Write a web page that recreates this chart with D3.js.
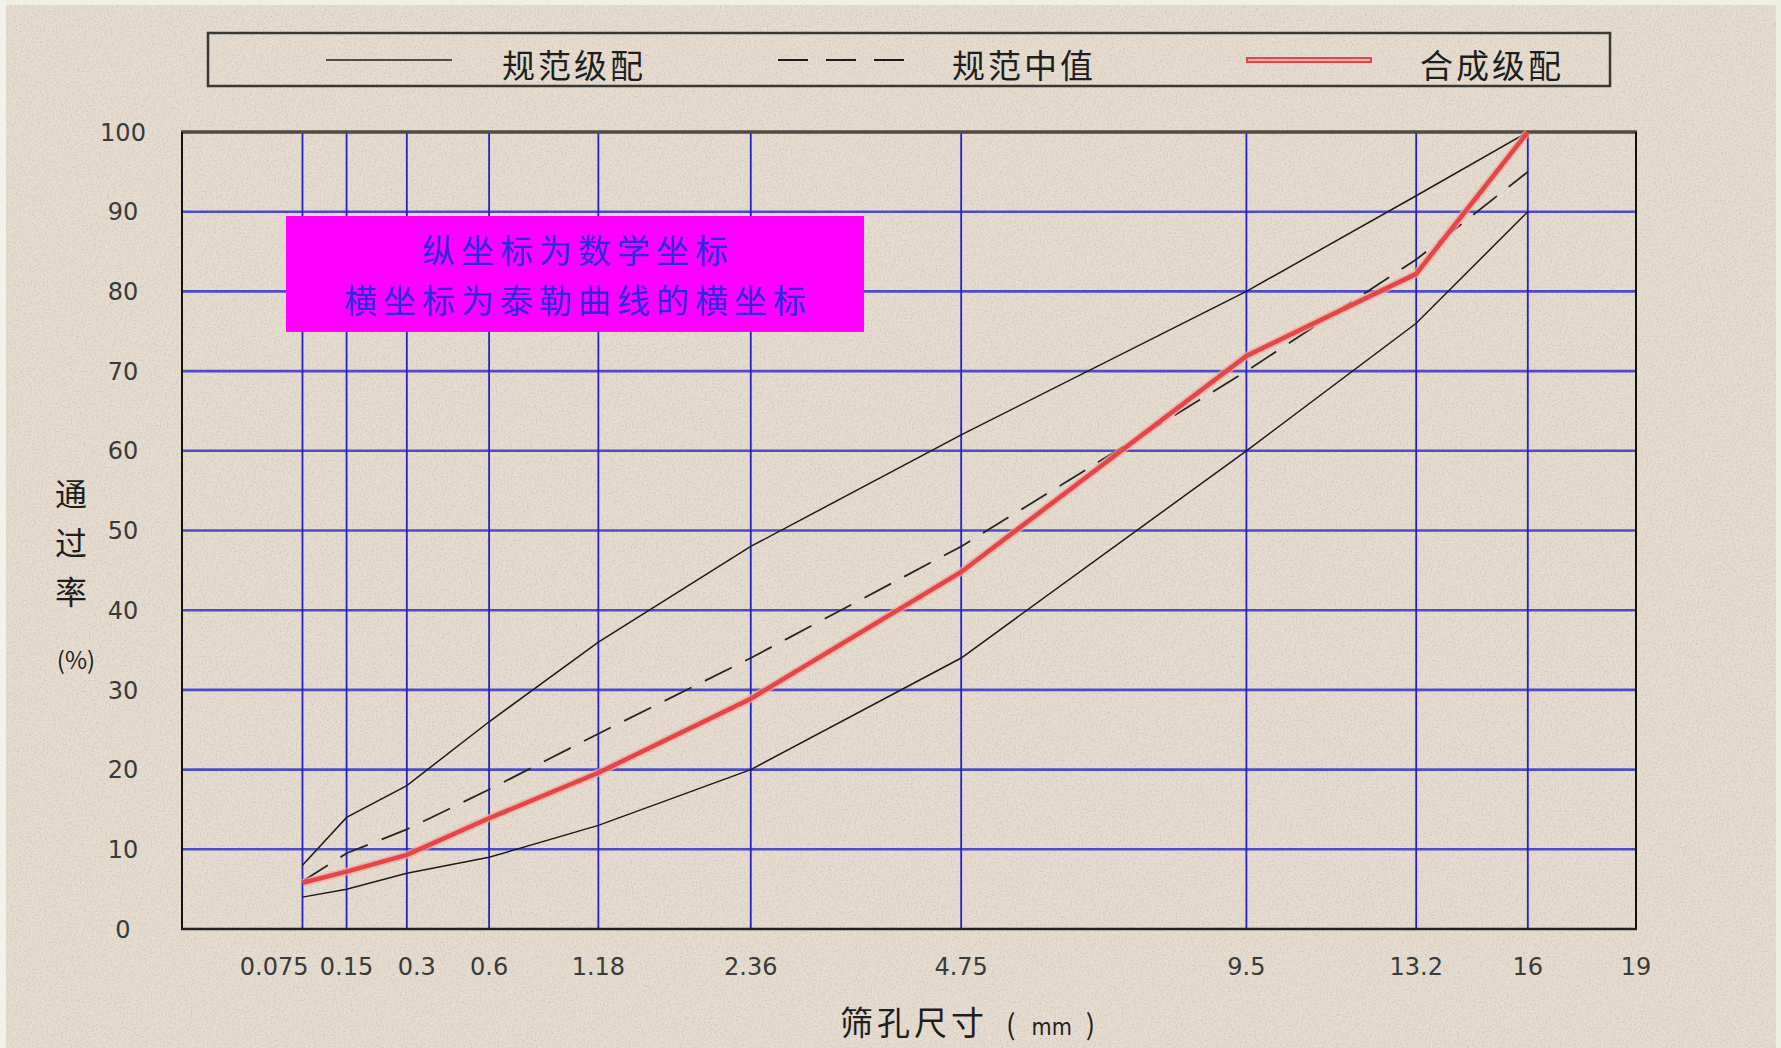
<!DOCTYPE html>
<html>
<head>
<meta charset="utf-8">
<script src="https://cdn.jsdelivr.net/npm/d3@7"></script>
<style>
  html, body { margin: 0; padding: 0; background: #e6ddd0; }
  svg { display: block; }
  .tick-label { font-family: 'DejaVu Sans', sans-serif; font-size: 24px; fill: #3a3a3a; }
  .cjk { font-family: 'Noto Sans CJK SC', sans-serif; fill: #1e1e1e; }
</style>
</head>
<body>
<div class="chart"></div>
<script>
// sieve sizes (mm) and passing percentages
const SIEVES = [0.075, 0.15, 0.3, 0.6, 1.18, 2.36, 4.75, 9.5, 13.2, 16]
const X_TICKS = [0.075, 0.15, 0.3, 0.6, 1.18, 2.36, 4.75, 9.5, 13.2, 16, 19]
const Y_TICKS = [0, 10, 20, 30, 40, 50, 60, 70, 80, 90, 100]
const UPPER = [8, 14, 18, 26, 36, 48, 62, 80, 92, 100]
const LOWER = [4, 5, 7, 9, 13, 20, 34, 60, 76, 90]
const MEDIAN = [6, 9.5, 12.5, 17.5, 24.5, 34, 48, 70, 84, 95]
const BLEND = [5.8, 7.2, 9.3, 13.9, 19.6, 28.9, 44.8, 71.9, 82.2, 100]
const LEGEND = ['规范级配', '规范中值', '合成级配']
const NOTE = ['纵坐标为数学坐标', '横坐标为泰勒曲线的横坐标']

const W = 1781
const H = 1048
const margin = {top: 132, right: 145, bottom: 119, left: 182}

const svg = d3.select('.chart').append('svg')
  .attr('width', W)
  .attr('height', H)

// paper texture
const defs = svg.append('defs')
const grain = defs.append('filter').attr('id', 'grain').attr('x', 0).attr('y', 0).attr('width', '100%').attr('height', '100%')
grain.append('feTurbulence').attr('type', 'fractalNoise').attr('baseFrequency', 0.55).attr('numOctaves', 2).attr('seed', 4)
grain.append('feColorMatrix').attr('type', 'matrix')
  .attr('values', '0 0 0 0 0.45  0 0 0 0 0.40  0 0 0 0 0.33  0 0 0 -2.2 1.25')

svg.append('rect').attr('width', W).attr('height', H).attr('fill', '#e6ddd0')
svg.append('rect').attr('width', W).attr('height', H).attr('filter', 'url(#grain)').attr('opacity', 0.4)
svg.append('rect').attr('width', W).attr('height', 5).attr('fill', '#f1efe4')
svg.append('rect').attr('width', 6).attr('height', H).attr('fill', '#f3f1ea')
svg.append('rect').attr('x', W - 5).attr('width', 5).attr('height', H).attr('fill', '#eef0df')

const x = d3.scalePow().exponent(0.45)
  .domain([0, 19])
  .range([margin.left, W - margin.right])

const y = d3.scaleLinear()
  .domain([0, 100])
  .range([H - margin.bottom, margin.top])

const g = svg.append('g')

// grid
g.append('g').selectAll('line')
  .data(Y_TICKS.filter(d => d > 0 && d < 100))
  .join('line')
  .attr('x1', x(0)).attr('x2', x(19))
  .attr('y1', d => y(d)).attr('y2', d => y(d))
  .attr('stroke', '#3434c4')
  .attr('stroke-width', 2.6)
  .attr('stroke-opacity', 0.85)

g.append('g').selectAll('line')
  .data(SIEVES)
  .join('line')
  .attr('x1', d => x(d)).attr('x2', d => x(d))
  .attr('y1', y(0)).attr('y2', y(100))
  .attr('stroke', '#2222cc')
  .attr('stroke-width', 1.8)

// frame
g.append('line').attr('x1', x(0) - 1).attr('x2', x(19) + 1).attr('y1', y(100)).attr('y2', y(100))
  .attr('stroke', '#4e4a44').attr('stroke-width', 3.5)
g.append('line').attr('x1', x(19)).attr('x2', x(19)).attr('y1', y(100)).attr('y2', y(0))
  .attr('stroke', '#111').attr('stroke-width', 2)
g.append('line').attr('x1', x(0)).attr('x2', x(0)).attr('y1', y(100)).attr('y2', y(0))
  .attr('stroke', '#111').attr('stroke-width', 2)
g.append('line').attr('x1', x(0) - 1).attr('x2', x(19) + 1).attr('y1', y(0)).attr('y2', y(0))
  .attr('stroke', '#222').attr('stroke-width', 2.5)

// curves
const line = d3.line()
  .x((d, i) => x(SIEVES[i]))
  .y(d => y(d))

g.append('path').datum(UPPER).attr('d', line)
  .attr('fill', 'none').attr('stroke', '#1c1c1c').attr('stroke-width', 1.5)
g.append('path').datum(LOWER).attr('d', line)
  .attr('fill', 'none').attr('stroke', '#1c1c1c').attr('stroke-width', 1.5)
g.append('path').datum(MEDIAN).attr('d', line)
  .attr('fill', 'none').attr('stroke', '#262626').attr('stroke-width', 1.8)
  .attr('stroke-dasharray', '30,15')
g.append('path').datum(BLEND).attr('d', line)
  .attr('fill', 'none').attr('stroke', '#f2a6a0').attr('stroke-width', 8).attr('stroke-opacity', 0.7)
g.append('path').datum(BLEND).attr('d', line)
  .attr('fill', 'none').attr('stroke', '#e24646').attr('stroke-width', 4.5)

// y tick labels
g.append('g').selectAll('text')
  .data(Y_TICKS)
  .join('text')
  .attr('class', 'tick-label')
  .attr('x', 123)
  .attr('y', d => y(d))
  .attr('dy', '0.36em')
  .attr('text-anchor', 'middle')
  .text(d => d)

// x tick labels
g.append('g').selectAll('text')
  .data(X_TICKS)
  .join('text')
  .attr('class', 'tick-label')
  .attr('x', d => x(d))
  .attr('dx', (d, i) => i === 0 ? 6 : (i === 2 ? 10 : 0))
  .attr('y', 966)
  .attr('dy', '0.36em')
  .attr('text-anchor', (d, i) => i === 0 ? 'end' : 'middle')
  .text(d => d)

// axis titles
g.append('g').selectAll('text')
  .data(['通', '过', '率'])
  .join('text')
  .attr('class', 'cjk')
  .attr('x', 71)
  .attr('y', (d, i) => 494 + i * 49)
  .attr('dy', '0.36em')
  .attr('text-anchor', 'middle')
  .attr('font-size', 32)
  .text(d => d)
g.append('text')
  .attr('class', 'cjk')
  .attr('x', 76).attr('y', 660).attr('dy', '0.36em')
  .attr('text-anchor', 'middle')
  .attr('font-size', 24)
  .text('(%)')

const xTitle = g.append('text')
  .attr('class', 'cjk')
  .attr('x', 840).attr('y', 1023).attr('dy', '0.36em')
  .attr('font-size', 33)
  .attr('letter-spacing', 4)
xTitle.append('tspan').text('筛孔尺寸')
xTitle.append('tspan').attr('dx', 18).attr('font-size', 28).text('(')
xTitle.append('tspan').attr('dx', 12).attr('font-size', 23).attr('letter-spacing', 0)
  .attr('font-family', 'DejaVu Sans Condensed, sans-serif').text('mm')
xTitle.append('tspan').attr('dx', 14).attr('font-size', 28).text(')')

// legend
const legend = g.append('g')
legend.append('rect')
  .attr('x', 208).attr('y', 33).attr('width', 1402).attr('height', 53)
  .attr('fill', 'none').attr('stroke', '#3a3834').attr('stroke-width', 2.5)

const legendX = [326, 778, 1246]
const legendText = [574, 1024, 1492]
const ly = 60
legend.append('line').attr('x1', legendX[0]).attr('x2', legendX[0] + 126).attr('y1', ly).attr('y2', ly)
  .attr('stroke', '#1c1c1c').attr('stroke-width', 1.6)
legend.append('line').attr('x1', legendX[1]).attr('x2', legendX[1] + 127).attr('y1', ly).attr('y2', ly)
  .attr('stroke', '#1c1c1c').attr('stroke-width', 1.8).attr('stroke-dasharray', '30,18')
legend.append('line').attr('x1', legendX[2]).attr('x2', legendX[2] + 126).attr('y1', ly).attr('y2', ly)
  .attr('stroke', '#e04848').attr('stroke-width', 6)
legend.append('line').attr('x1', legendX[2] + 2).attr('x2', legendX[2] + 124).attr('y1', ly).attr('y2', ly)
  .attr('stroke', '#f2b0a8').attr('stroke-width', 1.8)

legend.selectAll('text.lg')
  .data(LEGEND)
  .join('text')
  .attr('class', 'cjk lg')
  .attr('x', (d, i) => legendText[i])
  .attr('y', 66)
  .attr('dy', '0.36em')
  .attr('text-anchor', 'middle')
  .attr('font-size', 33)
  .attr('letter-spacing', 3)
  .text(d => d)

// note box
const note = g.append('g')
note.append('rect')
  .attr('x', 286).attr('y', 216).attr('width', 578).attr('height', 116)
  .attr('fill', '#ff00ff')
note.selectAll('text')
  .data(NOTE)
  .join('text')
  .attr('x', 578)
  .attr('y', (d, i) => 251 + i * 50)
  .attr('dy', '0.36em')
  .attr('text-anchor', 'middle')
  .attr('font-family', "'Noto Sans CJK SC', sans-serif")
  .attr('font-size', 33)
  .attr('letter-spacing', 6)
  .attr('fill', '#2a2ae0')
  .text(d => d)
</script>
</body>
</html>
